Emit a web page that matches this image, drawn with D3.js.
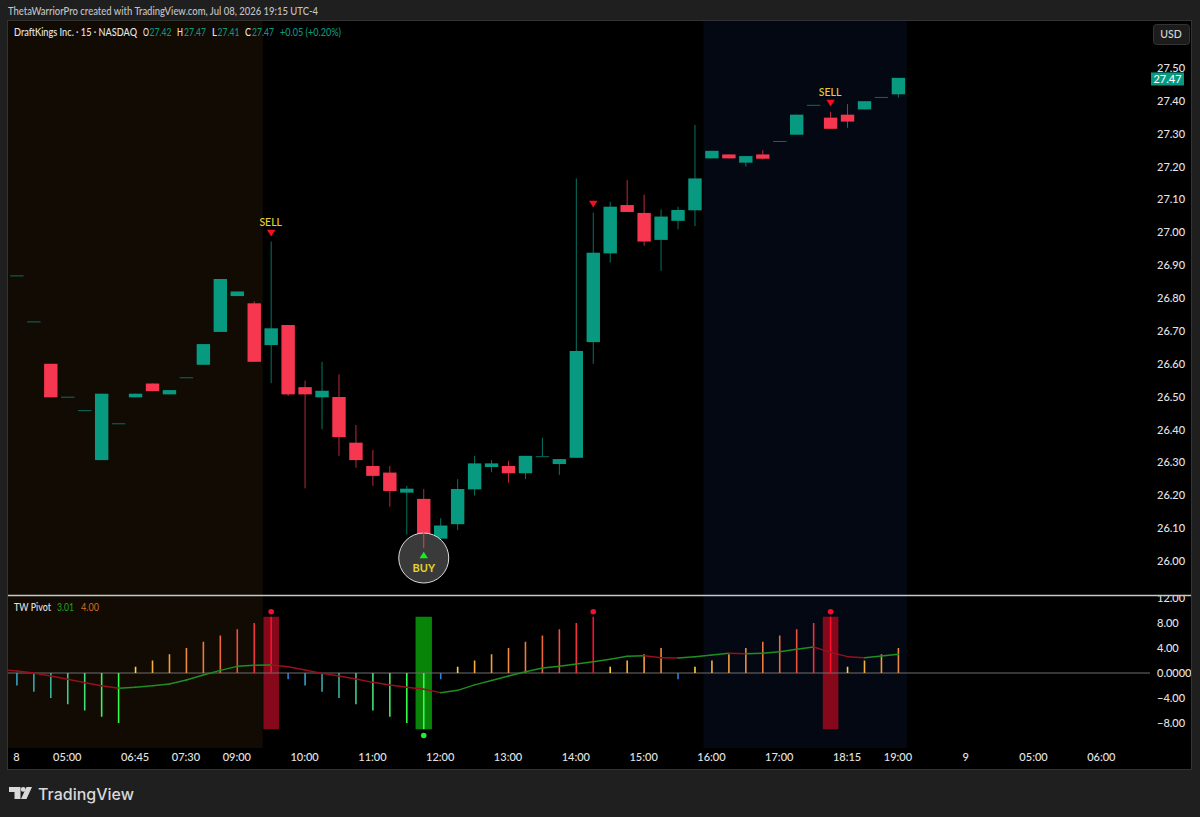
<!DOCTYPE html>
<html lang="en">
<head>
<meta charset="utf-8">
<title>DraftKings 15m</title>
<script src="https://d3js.org/d3.v7.min.js"></script>
<style>
  html, body { margin: 0; padding: 0; background: #1f1f1f; }
  svg { display: block; }
  text { font-family: Lato, "Noto Sans", sans-serif; }
</style>
</head>
<body>
<svg id="chart" width="1200" height="817"></svg>
<script>
// candles, one every 15 min
var opens = [26.869,26.729,26.60,26.50,26.459,26.307,26.419,26.498,26.54,26.507,26.559,26.597,26.697,26.806,26.784,26.657,26.718,26.529,26.498,26.499,26.36,26.289,26.269,26.208,26.189,26.068,26.112,26.218,26.286,26.289,26.267,26.319,26.295,26.314,26.666,26.936,27.083,27.059,26.977,27.035,27.067,27.225,27.237,27.212,27.237,27.278,27.297,27.388,27.349,27.358,27.374,27.412,27.42];
var highs = [26.869,26.729,26.60,26.50,26.459,26.509,26.419,26.509,26.54,26.52,26.559,26.66,26.858,26.82,26.79,26.972,26.718,26.549,26.606,26.568,26.414,26.338,26.289,26.229,26.219,26.13,26.249,26.32,26.307,26.305,26.32,26.375,26.31,27.164,27.06,27.093,27.159,27.115,27.07,27.078,27.327,27.248,27.237,27.232,27.25,27.278,27.358,27.388,27.367,27.39,27.399,27.412,27.47];
var lows = [26.869,26.729,26.498,26.50,26.459,26.307,26.419,26.498,26.517,26.507,26.559,26.597,26.697,26.806,26.606,26.541,26.502,26.221,26.401,26.32,26.284,26.229,26.165,26.08,26.039,26.068,26.094,26.199,26.27,26.238,26.249,26.319,26.262,26.314,26.60,26.908,27.062,26.959,26.883,27.009,27.019,27.225,27.225,27.20,27.222,27.278,27.297,27.388,27.315,27.318,27.374,27.412,27.41];
var closes = [26.869,26.729,26.498,26.50,26.459,26.509,26.419,26.509,26.517,26.52,26.559,26.66,26.858,26.82,26.606,26.708,26.507,26.507,26.518,26.377,26.307,26.259,26.213,26.22,26.056,26.108,26.219,26.297,26.297,26.267,26.32,26.319,26.31,26.639,26.938,27.078,27.062,26.972,27.048,27.068,27.164,27.248,27.225,27.232,27.224,27.278,27.358,27.388,27.315,27.337,27.399,27.412,27.47];

// TW Pivot histogram and signal line (signal has one extra value left of the first bar)
var pivotHist = [-2,-3,-4,-5,-6,-7,-8,1,2,3,4,5,6,7,8,9,-1,-2,-3,-4,-5,-6,-7,-8,-9,-1,1,2,3,4,5,6,7,8,9,1,2,3,4,-1,1,2,3,4,5,6,7,8,9,1,2,3,4];
var pivotSignal = [0.6,0.32,0,-0.48,-1,-1.55,-2.03,-2.45,-2.29,-2.03,-1.76,-1.12,-0.32,0.43,1.07,1.23,1.28,1,0.48,-0.05,-0.48,-0.96,-1.49,-1.92,-2.29,-2.6,-3.15,-2.77,-1.9,-1.2,-0.48,0.2,0.8,1.07,1.44,1.81,2.19,2.67,2.77,2.45,2.4,2.61,2.88,3.15,3.09,3.15,3.41,3.79,4.16,3.31,2.61,2.45,2.72,3.01];

var priceTicks = [27.5,27.4,27.3,27.2,27.1,27.0,26.9,26.8,26.7,26.6,26.5,26.4,26.3,26.2,26.1,26.0];
var pivotTicks = [12,8,4,0,-4,-8];
var timeIndex = [0,3,7,10,13,17,21,25,29,33,37,41,45,49,52,56,60,64];
var timeLabels = ["8","05:00","06:45","07:30","09:00","10:00","11:00","12:00","13:00","14:00","15:00","16:00","17:00","18:15","19:00","9","05:00","06:00"];

var sellBars = [15,48];        // SELL text + triangle
var plainSellBars = [34];      // triangle only
var buyBar = 24;
var redDots = [15,34,48];
var greenDots = [24];
var redBands = [15,48];
var greenBands = [24];
var preMarket = [-1,14.5];     // session shading, in bar index
var postMarket = [40.5,52.5];

var upColor = "#089981", downColor = "#f7374f", axisText = "#e4e4e4";

var paneLeft = 8, paneEnd = 1191, paneTop = 21, paneBottom = 769;
var paneRight = 1150, sep = 595, pivotBottom = 748;

var svg = d3.select("#chart");
var x = d3.scaleLinear().domain([0,52]).range([16.9,898.4]);
var y = d3.scaleLinear().domain([26,27.5]).range([561,68]);
var yp = d3.scaleLinear().domain([-8,12]).range([723,598]);

svg.append("rect").attr("x",paneLeft-0.5).attr("y",paneTop-0.5).attr("width",paneEnd-paneLeft+1).attr("height",paneBottom-paneTop+1).attr("fill","#000").attr("stroke","#333");

var defs = svg.append("defs");
defs.append("clipPath").attr("id","pivotClip").append("rect").attr("x",paneLeft).attr("y",sep).attr("width",paneRight-paneLeft).attr("height",pivotBottom-sep);
defs.append("clipPath").attr("id","pivotAxisClip").append("rect").attr("x",paneRight).attr("y",sep+1).attr("width",paneEnd-paneRight).attr("height",pivotBottom-sep);

//session backgrounds
svg.append("rect").attr("x",paneLeft).attr("y",paneTop).attr("width",x(preMarket[1])-paneLeft).attr("height",pivotBottom-paneTop).attr("fill","#110b03");
svg.append("rect").attr("x",x(postMarket[0])).attr("y",paneTop).attr("width",x(postMarket[1])-x(postMarket[0])).attr("height",pivotBottom-paneTop).attr("fill","#040813");

//candles
var idx = d3.range(opens.length);
var colorOf = function (i) { return closes[i] >= opens[i] ? upColor : downColor; };
var bodyW = 13.4;

var main = svg.append("g");
main.selectAll(".wick").data(idx).enter().append("line")
  .attr("class","wick")
  .attr("x1",function (i) { return x(i); }).attr("x2",function (i) { return x(i); })
  .attr("y1",function (i) { return y(highs[i]); }).attr("y2",function (i) { return y(lows[i]); })
  .attr("stroke",colorOf).attr("stroke-opacity",0.75).attr("stroke-width",1);
main.selectAll(".body").data(idx).enter().append("rect")
  .attr("class","body")
  .attr("x",function (i) { return x(i)-bodyW/2; })
  .attr("width",bodyW)
  .attr("y",function (i) { return y(Math.max(opens[i],closes[i])); })
  .attr("height",function (i) { return Math.max(1,Math.abs(y(opens[i])-y(closes[i]))); })
  .attr("fill",colorOf)
  .attr("fill-opacity",function (i) { return opens[i]===closes[i] ? 0.7 : 1; });

//signals on price pane
var tri = function (cx, cy, s, up) {
  var d = up ? -1 : 1;
  return "M"+(cx-s)+","+(cy-d*s*0.8)+"L"+(cx+s)+","+(cy-d*s*0.8)+"L"+cx+","+(cy+d*s*0.8)+"Z";
};
sellBars.concat(plainSellBars).forEach(function (i) {
  var hi = y(highs[i])-8.5;
  main.append("path").attr("d",tri(x(i),hi,4.2,false)).attr("fill","#f80d1d");
  if (sellBars.indexOf(i) >= 0) {
    main.append("text").attr("x",x(i)-0.5).attr("y",hi-11).attr("dy","0.35em").attr("text-anchor","middle")
      .attr("font-size",10.5).attr("font-weight",500).attr("fill","#e5d32a").text("SELL");
  }
});
var bx = x(buyBar);
main.append("circle").attr("cx",bx).attr("cy",558).attr("r",25).attr("fill","#3a3a3a").attr("stroke","#dcdcdc").attr("stroke-width",1);
main.selectAll(".redraw").data([buyBar]).enter().append("line").attr("class","redraw")
  .attr("x1",bx).attr("x2",bx).attr("y1",y(opens[buyBar])).attr("y2",y(lows[buyBar]))
  .attr("stroke",downColor).attr("stroke-width",1);
main.append("path").attr("d",tri(bx,555,4.2,true)).attr("fill","#12f01e");
main.append("text").attr("x",bx).attr("y",568).attr("dy","0.35em").attr("text-anchor","middle")
  .attr("font-size",11).attr("font-weight",700).attr("fill","#e5d32a").text("BUY");

//pivot pane
var pivot = svg.append("g").attr("clip-path","url(#pivotClip)");
var bandTop = yp(9), bandBot = yp(-9);
pivot.selectAll(".rb").data(redBands).enter().append("rect").attr("class","rb")
  .attr("x",function (i) { return x(i)-7.8; }).attr("width",15.6)
  .attr("y",bandTop).attr("height",bandBot-bandTop).attr("fill","#85091b");
pivot.selectAll(".gb").data(greenBands).enter().append("rect").attr("class","gb")
  .attr("x",function (i) { return x(i)-8.2; }).attr("width",16.4)
  .attr("y",bandTop).attr("height",bandBot-bandTop).attr("fill","#088408");

pivot.append("line").attr("x1",paneLeft).attr("x2",paneRight).attr("y1",yp(0)).attr("y2",yp(0)).attr("stroke","#6e6e6e").attr("stroke-width",1);

var posColor = d3.scaleLinear().domain([1,2,4,6,8,9]).range(["#ffd040","#f7ae3c","#ef8a3e","#ee6a3c","#f0343a","#ff0f2a"]);
var negColor = d3.scaleLinear().domain([-1,-2,-3,-4,-5,-6,-8,-9]).range(["#2b83d8","#3a9ec6","#37a8a8","#35b39a","#3ecb8c","#45e07a","#33ff4a","#33ff4a"]);
pivot.selectAll(".hist").data(idx).enter().append("line").attr("class","hist")
  .attr("x1",function (i) { return x(i); }).attr("x2",function (i) { return x(i); })
  .attr("y1",yp(0)).attr("y2",function (i) { return yp(pivotHist[i]); })
  .attr("stroke",function (i) { return pivotHist[i] > 0 ? posColor(pivotHist[i]) : negColor(pivotHist[i]); })
  .attr("stroke-width",1.6);

//signal line, red while falling and green while rising
var segs = d3.pairs(pivotSignal.map(function (v, k) { return [k-1, v]; }));
pivot.selectAll(".sig").data(segs).enter().append("line").attr("class","sig")
  .attr("x1",function (s) { return x(s[0][0]); }).attr("y1",function (s) { return yp(s[0][1]); })
  .attr("x2",function (s) { return x(s[1][0]); }).attr("y2",function (s) { return yp(s[1][1]); })
  .attr("stroke",function (s) { return s[1][1] >= s[0][1] ? "#1e8f22" : "#9a0f1e"; })
  .attr("stroke-width",1.4).attr("stroke-linecap","round");

pivot.selectAll(".rd").data(redDots).enter().append("circle").attr("class","rd")
  .attr("cx",function (i) { return x(i); }).attr("cy",yp(9.8)).attr("r",2.8).attr("fill","#f4102c");
pivot.selectAll(".gd").data(greenDots).enter().append("circle").attr("class","gd")
  .attr("cx",function (i) { return x(i); }).attr("cy",yp(-10)).attr("r",2.8).attr("fill","#1cf02c");

//axes
var axisFont = "Lato";
var priceAxis = d3.axisRight(y).tickValues(priceTicks).tickSize(0).tickPadding(0).tickFormat(d3.format(".2f"));
var pa = svg.append("g").attr("transform","translate(1157,0)").call(priceAxis);
pa.select(".domain").remove();
pa.selectAll("text").attr("font-size",11).attr("font-weight",500).attr("fill",axisText).style("font-family",axisFont);

var pivotAxis = d3.axisRight(yp).tickValues(pivotTicks).tickSize(0).tickPadding(0)
  .tickFormat(function (d) { return d === 0 ? "0.0000" : d3.format(".2f")(d).replace("-","\u2212"); });
var pva = svg.append("g").attr("clip-path","url(#pivotAxisClip)").append("g").attr("transform","translate(1157,0)").call(pivotAxis);
pva.select(".domain").remove();
pva.selectAll("text").attr("font-size",11).attr("font-weight",500).attr("fill",axisText).style("font-family",axisFont);

var timeAxis = d3.axisBottom(x).tickValues(timeIndex).tickSize(0).tickPadding(0)
  .tickFormat(function (d) { return timeLabels[timeIndex.indexOf(d)]; });
var ta = svg.append("g").attr("transform","translate(-1,753)").call(timeAxis);
ta.select(".domain").remove();
ta.selectAll("text").attr("font-size",11).attr("font-weight",500).attr("fill",axisText).style("font-family",axisFont);

//pane separator
svg.append("line").attr("x1",paneLeft).attr("x2",paneEnd).attr("y1",sep+0.5).attr("y2",sep+0.5).attr("stroke","#c8c8c8").attr("stroke-width",1.5);

//last price tag
var lastP = closes[closes.length-1];
svg.append("rect").attr("x",1151).attr("y",y(lastP)-5.4).attr("width",33).attr("height",13).attr("fill","#089981");
svg.append("text").attr("x",1167.5).attr("y",y(lastP)+1.2).attr("dy","0.35em").attr("text-anchor","middle")
  .attr("font-size",11).attr("font-weight",500).attr("fill","#fff").text(d3.format(".2f")(lastP));

//USD button
svg.append("rect").attr("x",1153.5).attr("y",24.5).attr("width",36).attr("height",20).attr("rx",3).attr("fill","#1c1c1c").attr("stroke","#333");
svg.append("text").attr("x",1171).attr("y",34.5).attr("dy","0.35em").attr("text-anchor","middle").attr("font-size",10.5).attr("font-weight",500).attr("fill","#d8d8d8").text("USD");

//header text, squeezed to the narrower original face
svg.append("text").attr("x",8).attr("y",11.5).attr("dy","0.35em").attr("font-size",10.5).attr("font-weight",500).attr("fill","#c4c4c4")
  .attr("textLength",310).attr("lengthAdjust","spacingAndGlyphs")
  .text("ThetaWarriorPro created with TradingView.com, Jul 08, 2026 19:15 UTC-4");

//legend pieces placed one by one: [text, x, width, colour]
var labelRow = function (yPos, items) {
  items.forEach(function (p) {
    svg.append("text").attr("x",p[1]).attr("y",yPos).attr("dy","0.35em")
      .attr("font-size",10.5).attr("font-weight",500).attr("fill",p[3])
      .attr("textLength",p[2]).attr("lengthAdjust","spacingAndGlyphs").text(p[0]);
  });
};
labelRow(32.5, [
  ["DraftKings Inc. \u00b7 15 \u00b7 NASDAQ",14,123,"#e6e6e6"],
  ["O",143,6,"#e6e6e6"],["27.42",149.5,22,upColor],
  ["H",177,6,"#e6e6e6"],["27.47",184,22,upColor],
  ["L",212,5,"#e6e6e6"],["27.41",217.5,22,upColor],
  ["C",245,6,"#e6e6e6"],["27.47",252,22,upColor],
  ["+0.05 (+0.20%)",280,61,upColor]
]);
labelRow(607, [
  ["TW Pivot",14,37,"#e0e0e0"],
  ["3.01",57,17,"#1e9a22"],
  ["4.00",81,18,"#c8641e"]
]);

//logo
var logo = svg.append("g").attr("transform","translate(9,787)").attr("fill","#d9d9d9");
logo.append("path").attr("d","M0,0H11.5V12H5.5V5H0Z");
logo.append("circle").attr("cx",14.2).attr("cy",2.4).attr("r",2.4);
logo.append("path").attr("d","M17.5,0H23L17.5,12H12Z");
svg.append("text").attr("x",38).attr("y",794).attr("dy","0.35em").attr("font-size",16).attr("font-weight",500).attr("fill","#d9d9d9").style("font-family","Inter").text("TradingView");
</script>
</body>
</html>
